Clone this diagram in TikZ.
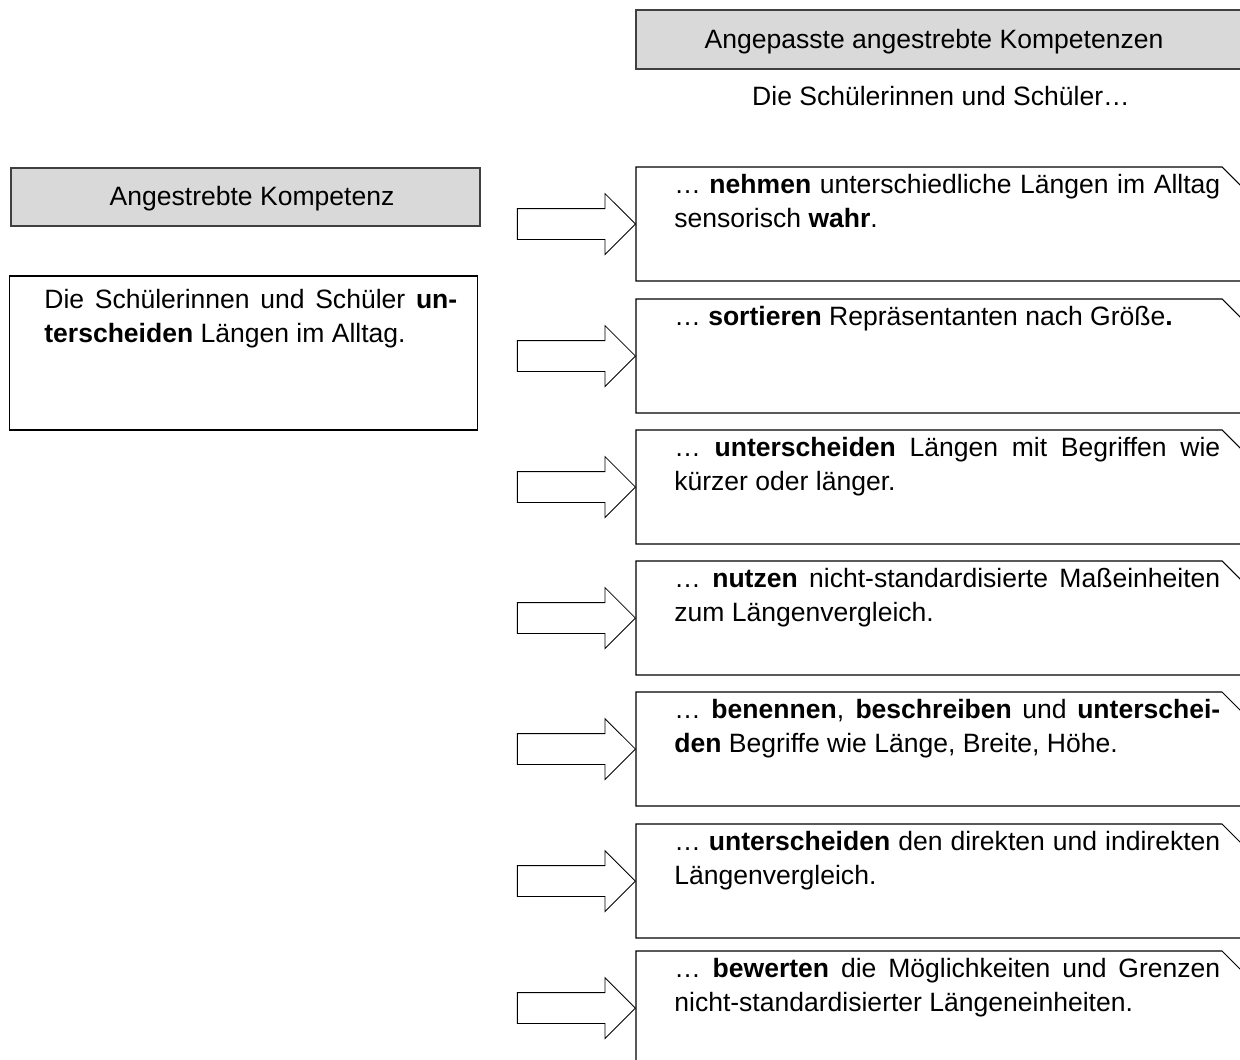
\documentclass[tikz,border=0pt]{standalone}
\usepackage{fontspec}
\setmainfont{Liberation Sans}
\usetikzlibrary{shapes.arrows}

\tikzset{
  kopf/.style={draw=black!75, line width=0.9pt, fill=black!15},
  kasten/.style={draw=black, line width=0.6pt},
  pfeil/.style={single arrow, draw=black, line width=0.5pt, fill=white,
    minimum height=2.36cm, inner xsep=0pt, inner ysep=0.3cm,
    single arrow head extend=0.3cm, anchor=tip},
  zeilen/.style={inner sep=0pt, anchor=north west, align=left},
}
\newcommand{\voll}[1]{\makebox[10.92cm][s]{\strut #1}}

\begin{document}
\begin{tikzpicture}[x=0.02cm, y=-0.02cm, font=\fontsize{15.1}{19.35}\selectfont]
\useasboundingbox (0,0) rectangle (1240,1059);
\clip (0,0) rectangle (1240,1059);

% Kopf rechts
\draw[kopf] (1260,10) -- (636,10) -- (636,69) -- (1260,69);
\node (kopfR) at (934,48.5) [anchor=base] {Angepasste angestrebte Kompetenzen};
\node (sus) at (941,105.5) [anchor=base] {Die Schülerinnen und Schüler…};

% Kopf links und Ausgangskompetenz
\node[kopf, minimum width=9.38cm, minimum height=1.16cm] (kopfL) at (245.5,197) {};
\node (kopfLtext) at (252,205.5) [anchor=base] {Angestrebte Kompetenz};
\node[kasten, minimum width=9.38cm, minimum height=3.08cm] (ziel) at (243.5,353) {};
\node[zeilen] (zieltext) at (44,284.5) {\makebox[8.26cm][s]{\strut Die Schülerinnen und Schüler \textbf{un-}}\\\textbf{terscheiden} Längen im Alltag.};

% 1
\draw[kasten] (1262,207) -- (1222,167) -- (636,167) -- (636,281) -- (1262,281);
\coordinate (b1) at (636,224);
\node[pfeil] (p1) at (b1) {};
\node[zeilen] (k1) at (674,169.5) {\voll{… \textbf{nehmen} unterschiedliche Längen im Alltag}\\sensorisch \textbf{wahr}.};

% 2
\draw[kasten] (1262,339) -- (1222,299) -- (636,299) -- (636,413) -- (1262,413);
\coordinate (b2) at (636,356);
\node[pfeil] (p2) at (b2) {};
\node[zeilen] (k2) at (674,301.5) {\strut … \textbf{sortieren} Repräsentanten nach Größe\textbf{.}};

% 3
\draw[kasten] (1262,470) -- (1222,430) -- (636,430) -- (636,544) -- (1262,544);
\coordinate (b3) at (636,487);
\node[pfeil] (p3) at (b3) {};
\node[zeilen] (k3) at (674,432.5) {\voll{… \textbf{unterscheiden} Längen mit Begriffen wie}\\kürzer oder länger.};

% 4
\draw[kasten] (1262,601) -- (1222,561) -- (636,561) -- (636,675) -- (1262,675);
\coordinate (b4) at (636,618);
\node[pfeil] (p4) at (b4) {};
\node[zeilen] (k4) at (674,563.5) {\voll{… \textbf{nutzen} nicht-standardisierte Maßeinheiten}\\zum Längenvergleich.};

% 5
\draw[kasten] (1262,732) -- (1222,692) -- (636,692) -- (636,806) -- (1262,806);
\coordinate (b5) at (636,749);
\node[pfeil] (p5) at (b5) {};
\node[zeilen] (k5) at (674,694.5) {\voll{… \textbf{benennen}, \textbf{beschreiben} und \textbf{unterschei-}}\\\textbf{den} Begriffe wie Länge, Breite, Höhe.};

% 6
\draw[kasten] (1262,864) -- (1222,824) -- (636,824) -- (636,938) -- (1262,938);
\coordinate (b6) at (636,881);
\node[pfeil] (p6) at (b6) {};
\node[zeilen] (k6) at (674,826.5) {\voll{… \textbf{unterscheiden} den direkten und indirekten}\\Längenvergleich.};

% 7
\draw[kasten] (1262,991) -- (1222,951) -- (636,951) -- (636,1065) -- (1262,1065);
\coordinate (b7) at (636,1008);
\node[pfeil] (p7) at (b7) {};
\node[zeilen] (k7) at (674,953.5) {\voll{… \textbf{bewerten} die Möglichkeiten und Grenzen}\\nicht-standardisierter Längeneinheiten.};
\end{tikzpicture}
\end{document}
